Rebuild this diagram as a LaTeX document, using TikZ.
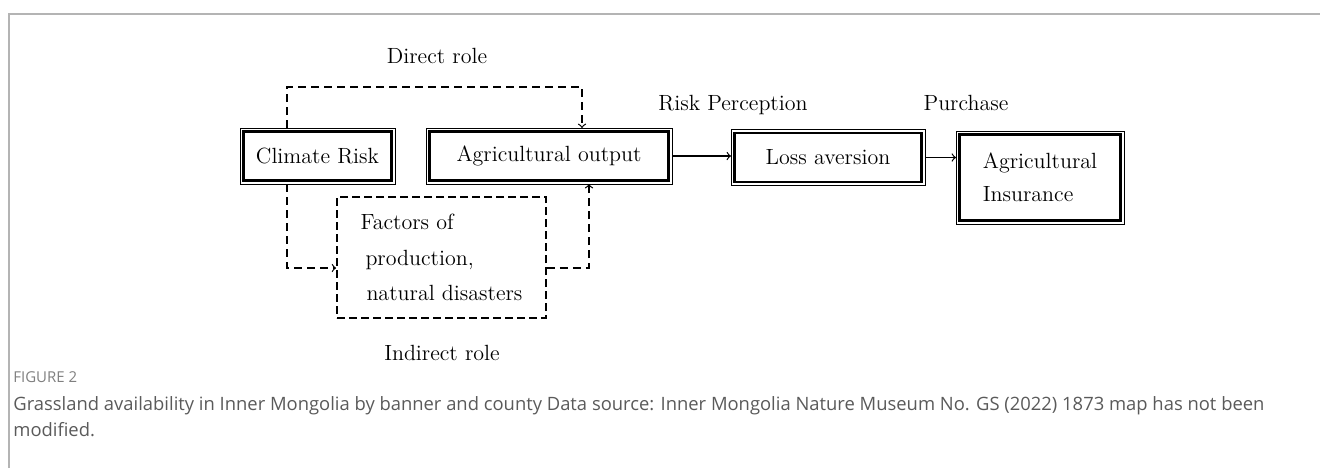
\documentclass[tikz,border=0pt]{standalone}
\usepackage{fontspec}
\usepackage{xcolor}
\usepackage{tikz}
\newfontfamily\captionsans{Open Sans}
\definecolor{FrameGray}{HTML}{B4B4B4}
\definecolor{CapGray}{HTML}{5A5A5A}
\definecolor{FigGray}{HTML}{7F7F7F}

\tikzset{
  mainbox/.style={draw, line width=1.3pt, outer sep=1.8pt, inner sep=2pt,
    font=\fontsize{11}{16.5}\selectfont},
  rolebox/.style={draw, line width=0.9pt, dash pattern=on 4pt off 2pt,
    inner sep=2pt, font=\fontsize{11}{17.75}\selectfont},
  rolelabel/.style={inner sep=0pt, font=\fontsize{11}{13}\selectfont},
  dashlink/.style={line width=0.6pt, dash pattern=on 4pt off 2.5pt, ->},
  solidlink/.style={line width=0.6pt, ->}
}

\begin{document}
\begin{tikzpicture}[x=0.5pt,y=-0.5pt]
\path[use as bounding box] (0,0) rectangle (1320,468);
\draw[FrameGray, line width=0.8pt] (9,468) -- (9,14) -- (1320,14);

% main chain
\node[mainbox, minimum width=73.9pt, minimum height=24.4pt] (climate) at (317.5,156) {Climate Risk};
\node[mainbox, minimum width=119.4pt, minimum height=24.4pt] (output) at (549,156) {Agricultural output};
\node[mainbox, minimum width=93.4pt, minimum height=24.4pt] (loss) at (828,157.5) {Loss aversion};
\node[mainbox, minimum width=80.4pt, minimum height=42.9pt, align=left] (insur) at (1040,177.5) {Agricultural\\Insurance};
\foreach \n in {climate,output,loss,insur}
  \draw[line width=0.4pt] (\n.south west) rectangle (\n.north east);

\node[rolebox, minimum width=104.5pt, minimum height=60.5pt, align=left] (factors) at (441.5,257.5)
  {Factors of\\\hspace*{2.5pt}production,\\\hspace*{3pt}natural disasters};

% labels
\node[rolelabel, anchor=base] (direct) at (437,63) {Direct role};
\node[rolelabel, anchor=base] (perception) at (733,110) {Risk Perception};
\node[rolelabel, anchor=base] (purchase) at (966,110) {Purchase};
\node[rolelabel, anchor=base] (indirect) at (442,360) {Indirect role};

% connectors
\coordinate (dirL) at (287,87);
\coordinate (dirR) at (582,87);
\coordinate (indL) at (287,268);
\coordinate (indR) at (589,268);
\draw[dashlink] (climate.north -| dirL) -- (dirL) -- (dirR) -- (output.north -| dirR);
\draw[dashlink] (climate.south -| indL) -- (indL) -- (factors.west |- indL);
\draw[dashlink] (factors.east |- indR) -- (indR) -- (output.south -| indR);
\draw[solidlink] (output.east) -- (output.east -| loss.west);
\draw[solidlink] (loss.east) -- (loss.east -| insur.west);

% caption
\node[anchor=base west, inner sep=0pt, text=FigGray, font=\captionsans\fontsize{7.5}{9}\selectfont] (figlabel) at (13,382) {FIGURE 2};
\node[anchor=north west, inner sep=0pt, align=left, text=CapGray, font=\captionsans\fontsize{9.2}{13}\selectfont] (caption) at (13,396)
  {Grassland availability in Inner Mongolia by banner and county Data source: Inner Mongolia Nature Museum No. GS (2022) 1873 map has not been\\modified.};
\end{tikzpicture}
\end{document}
